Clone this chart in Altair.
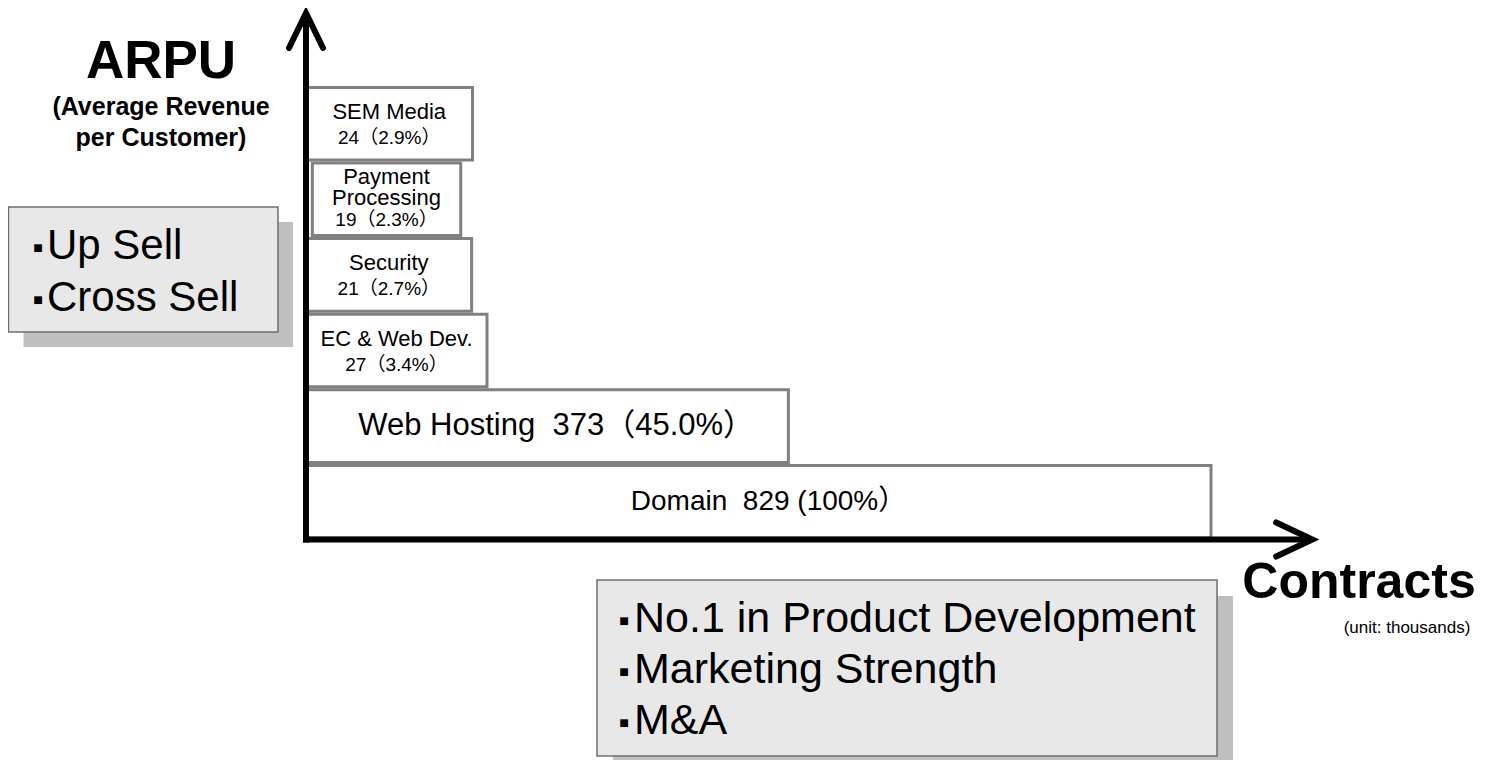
import altair as alt
import pandas as pd

# ---------------- data ----------------
categories = ["Domain", "Web Hosting", "EC & Web Dev.", "Security", "Payment\nProcessing", "SEM Media"]
contracts = [829, 373, 27, 21, 19, 24]
value_labels = ["829 (100%）", "373（45.0%）", "27（3.4%）", "21（2.7%）", "19（2.3%）", "24（2.9%）"]
# schematic bar lengths as drawn (Domain bar = 100)
bar_length = [100, 53.3, 20.0, 18.3, 17.1, 18.4]
bar_start = [0, 0, 0, 0, 0.7, 0]

left_points = ["Up Sell", "Cross Sell"]
bottom_points = ["No.1 in Product Development", "Marketing Strength", "M&A"]
y_title = "ARPU"
y_subtitle = ["(Average Revenue", "per Customer)"]
x_title = "Contracts"
x_note = "(unit: thousands)"

FONT = "Liberation Sans, Arial, Noto Sans CJK JP, sans-serif"
W, H = 1472, 752
PX_X = 9.05   # pixels per x unit
PX_Y = 75.6   # pixels per level
X0, Y0 = 298, 531.5  # origin in chart pixels

XS = alt.Scale(domain=[-X0 / PX_X, (W - X0) / PX_X], nice=False, zero=False)
YS = alt.Scale(domain=[(Y0 - H) / PX_Y, Y0 / PX_Y], nice=False, zero=False)

NAME_LH = 21
rows = []
for i, cat in enumerate(categories):
    n = cat.count("\n") + 1
    rows.append({
        "level": i,
        "name": cat,
        "start": bar_start[i],
        "end": bar_length[i],
        "mid": (bar_start[i] + bar_length[i]) / 2,
        "y0": i + 0.02,
        "y1": i + 0.98,
        "ymid": i + 0.5,
        "label": (cat + "\u00a0\u00a0" + value_labels[i]) if i < 2 else value_labels[i],
        # first line of the name sits above the middle, value line below
        "name_y": i + 0.5 + (12 + (n - 1) * 10.5) / PX_Y,
        "val_y": i + 0.5 - (14 + (n - 1) * 7) / PX_Y,
    })
df = pd.DataFrame(rows)
small = df[df["level"] >= 2]

one = pd.DataFrame({"k": [0]})


def box(x1, y1, x2, y2, sx=15):
    shadow = alt.Chart(one).mark_rect(fill="#bfbfbf").encode(
        x=alt.value(x1 + sx), x2=alt.value(x2 + sx), y=alt.value(y1 + sx), y2=alt.value(y2 + sx))
    face = alt.Chart(one).mark_rect(fill="#e8e8e8", stroke="#6e6e6e", strokeWidth=1.5).encode(
        x=alt.value(x1), x2=alt.value(x2), y=alt.value(y1), y2=alt.value(y2))
    return shadow + face


def label(text, x, y, size, bold=False, align="center", lh=None, baseline="alphabetic", font=FONT):
    kw = dict(font=font, fontSize=size, align=align, baseline=baseline, color="black",
              fontWeight="bold" if bold else "normal", lineBreak="\n")
    if lh:
        kw["lineHeight"] = lh
    return alt.Chart(one).mark_text(text=text, **kw).encode(x=alt.value(x), y=alt.value(y))


def bullet_list(items, x_text, y_base, size, lh, x_bullet):
    text = label("\n".join(items), x_text, y_base, size, align="left", lh=lh)
    bullets = label("\n".join("■" for _ in items), x_bullet, y_base - 11, 16,
                    align="center", lh=lh, baseline="middle")
    return text + bullets


left_box = box(0.5, 199, 270, 324)
bottom_box = box(589, 572, 1209, 748, sx=16)

left_text = bullet_list(left_points, 39, 251, 42, 52, 30)
bottom_text = bullet_list(bottom_points, 626, 624, 43, 51, 616)

bars = alt.Chart(df).mark_rect(fill="white", stroke="#808080", strokeWidth=3).encode(
    x=alt.X("start:Q", scale=XS, axis=None), x2="end:Q",
    y=alt.Y("y0:Q", scale=YS, axis=None), y2="y1:Q")

domain_text = alt.Chart(df[df["level"] == 0]).mark_text(
    font=FONT, fontSize=28, color="black", baseline="middle", dx=10).encode(
    x=alt.X("mid:Q", scale=XS), y=alt.Y("ymid:Q", scale=YS), text="label:N")

hosting_text = alt.Chart(df[df["level"] == 1]).mark_text(
    font=FONT, fontSize=31, color="black", baseline="middle", dx=9).encode(
    x=alt.X("mid:Q", scale=XS), y=alt.Y("ymid:Q", scale=YS), text="label:N")

name_text = alt.Chart(small).mark_text(font=FONT, fontSize=22, lineBreak="\n", lineHeight=NAME_LH,
                                       color="black", baseline="middle").encode(
    x=alt.X("mid:Q", scale=XS), y=alt.Y("name_y:Q", scale=YS), text="name:N")

val_text = alt.Chart(small).mark_text(font=FONT, fontSize=19, color="black", baseline="middle").encode(
    x=alt.X("mid:Q", scale=XS), y=alt.Y("val_y:Q", scale=YS), text="label:N")

# axes with arrow heads (in data units)
x_tip = 111.2
y_tip = 6.964
axis_lines = pd.DataFrame({
    "x": [-0.33, 0.0], "x2": [x_tip - 0.3, 0.0],
    "y": [0.0, -0.04], "y2": [0.0, y_tip - 0.03],
})
axes = alt.Chart(axis_lines).mark_rule(color="black", strokeWidth=6, strokeCap="butt").encode(
    x=alt.X("x:Q", scale=XS), x2="x2:Q", y=alt.Y("y:Q", scale=YS), y2="y2:Q")

heads = pd.DataFrame({
    "arrow": ["h", "h", "h", "v", "v", "v"],
    "o": [0, 1, 2, 0, 1, 2],
    "x": [x_tip - 4.0, x_tip, x_tip - 4.0, -1.88, 0.0, 1.88],
    "y": [0.225, 0.0, -0.225, y_tip - 0.463, y_tip, y_tip - 0.463],
})
arrowheads = alt.Chart(heads).mark_line(color="black", strokeWidth=6, strokeCap="round",
                                        strokeJoin="miter").encode(
    x=alt.X("x:Q", scale=XS), y=alt.Y("y:Q", scale=YS), detail="arrow:N", order="o:Q")

titles = (
    label(y_title, 153, 70, 53, bold=True)
    + label("\n".join(y_subtitle), 153, 107, 25, bold=True, lh=31)
    + label(x_title, 1351, 590, 50, bold=True)
    + label(x_note, 1399, 625, 17)
)

chart = alt.layer(
    left_box, bottom_box, left_text, bottom_text,
    bars, domain_text, hosting_text, name_text, val_text, axes, arrowheads, titles
).properties(
    width=W, height=H, padding=0, autosize=alt.AutoSizeParams(type="none"), background="white"
).configure_view(stroke=None)

chart.save("out.html", embed_options={"renderer": "svg", "actions": False})
